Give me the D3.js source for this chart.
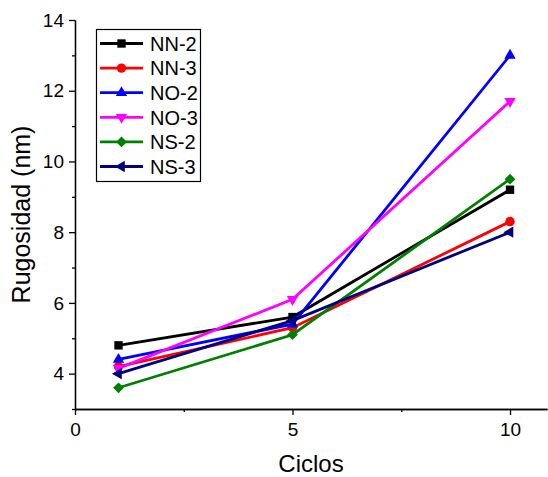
<!DOCTYPE html>
<html>
<head>
<meta charset="utf-8">
<script src="https://cdn.jsdelivr.net/npm/d3@7"></script>
<style>
  html, body { margin: 0; padding: 0; background: #fff; }
  svg { display: block; font-family: "Liberation Sans", Arial, sans-serif; }
</style>
</head>
<body>
<svg id="chart" width="548" height="477"></svg>
<script>
// Roughness per deposition cycle count
const cycles = [1, 5, 10];
const seriesNames = ["NN-2", "NN-3", "NO-2", "NO-3", "NS-2", "NS-3"];
const nn2 = [4.8, 5.6, 9.2];
const nn3 = [4.2, 5.3, 8.3];
const no2 = [4.4, 5.4, 13.0];
const no3 = [4.15, 6.1, 11.7];
const ns2 = [3.6, 5.1, 9.5];
const ns3 = [4.0, 5.5, 8.0];
const seriesColors = ["#000000", "#ff0000", "#0000ff", "#ff00ff", "#008000", "#000080"];
const xTicks = [0, 5, 10];
const xMinorTicks = [2.5, 7.5];
const yTicks = [4, 6, 8, 10, 12, 14];
const yMinorTicks = [3, 5, 7, 9, 11, 13];
const xTitle = "Ciclos";
const yTitle = "Rugosidad (nm)";

const seriesValues = [nn2, nn3, no2, no3, ns2, ns3];

// marker shapes: [d3 symbol, area, rotation]
const markers = [
  [d3.symbolSquare, 70, 0],
  [d3.symbolCircle, 70, 0],
  [d3.symbolTriangle, 56, 0],
  [d3.symbolTriangle, 56, 180],
  [d3.symbolSquare, 58, 45],
  [d3.symbolTriangle, 56, -90]
];

const svg = d3.select("#chart");
const plotLeft = 75, plotRight = 547, plotTop = 20, plotBottom = 409;

const x = d3.scaleLinear().domain([0, 10.85]).range([plotLeft, plotRight]);
const y = d3.scaleLinear().domain([3, 14]).range([plotBottom, plotTop]);

// axes
const axisG = svg.append("g");
const xAxis = axisG.append("g").attr("transform", `translate(0,${plotBottom})`)
  .call(d3.axisBottom(x).tickValues(xTicks).tickFormat(d3.format("d")).tickSize(6).tickSizeOuter(0));
const xMinor = axisG.append("g").attr("transform", `translate(0,${plotBottom})`)
  .call(d3.axisBottom(x).tickValues(xMinorTicks).tickFormat("").tickSize(3).tickSizeOuter(0));
const yAxis = axisG.append("g").attr("transform", `translate(${plotLeft},0)`)
  .call(d3.axisLeft(y).tickValues(yTicks).tickFormat(d3.format("d")).tickSize(6).tickSizeOuter(0));
const yMinor = axisG.append("g").attr("transform", `translate(${plotLeft},0)`)
  .call(d3.axisLeft(y).tickValues(yMinorTicks).tickFormat("").tickSize(3).tickSizeOuter(0));

axisG.selectAll(".domain").attr("stroke", "#000").attr("stroke-width", 1.3);
axisG.selectAll(".tick line").attr("stroke", "#000").attr("stroke-width", 1.3);
axisG.selectAll(".tick text")
  .attr("fill", "#000")
  .style("font-size", "19px")
  .style("font-family", "'Liberation Sans', Arial, sans-serif");
xAxis.selectAll(".tick text").attr("dy", "0.95em");
yAxis.selectAll(".tick text").attr("x", -11);

// axis titles
svg.append("text")
  .attr("x", (plotLeft + plotRight) / 2).attr("y", 472)
  .attr("text-anchor", "middle")
  .style("font-size", "24px")
  .text(xTitle);
svg.append("text")
  .attr("transform", `translate(30,${(plotTop + plotBottom) / 2}) rotate(-90)`)
  .attr("text-anchor", "middle")
  .style("font-size", "25px")
  .text(yTitle);

// series
const line = d3.line().x(d => x(d[0])).y(d => y(d[1]));
seriesValues.forEach((vals, i) => {
  const pts = cycles.map((c, j) => [c, vals[j]]);
  const g = svg.append("g");
  g.append("path").datum(pts)
    .attr("d", line)
    .attr("fill", "none")
    .attr("stroke", seriesColors[i])
    .attr("stroke-width", 2.8);
  const [shape, size, rot] = markers[i];
  g.selectAll("path.m").data(pts).join("path")
    .attr("class", "m")
    .attr("d", d3.symbol().type(shape).size(size))
    .attr("transform", d => `translate(${x(d[0])},${y(d[1])}) rotate(${rot})`)
    .attr("fill", seriesColors[i]);
});

// legend
const lg = svg.append("g");
lg.append("rect")
  .attr("x", 96.5).attr("y", 29.5).attr("width", 104).attr("height", 152)
  .attr("fill", "#fff").attr("stroke", "#000").attr("stroke-width", 1.2);
seriesNames.forEach((name, i) => {
  const yy = 43.5 + i * 24.6;
  lg.append("line")
    .attr("x1", 100).attr("x2", 143).attr("y1", yy).attr("y2", yy)
    .attr("stroke", seriesColors[i]).attr("stroke-width", 2.8);
  const [shape, size, rot] = markers[i];
  lg.append("path")
    .attr("d", d3.symbol().type(shape).size(size))
    .attr("transform", `translate(121.5,${yy}) rotate(${rot})`)
    .attr("fill", seriesColors[i]);
  lg.append("text")
    .attr("x", 150).attr("y", yy).attr("dy", "0.36em")
    .style("font-size", "20px")
    .text(name);
});
</script>
</body>
</html>
